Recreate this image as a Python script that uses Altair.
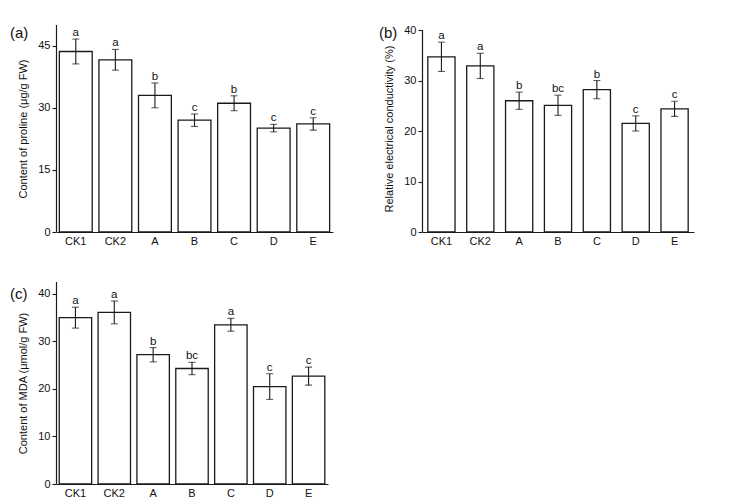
import altair as alt
import pandas as pd

cats = ["CK1", "CK2", "A", "B", "C", "D", "E"]

prol = [43.6, 41.6, 33.0, 27.0, 31.1, 25.1, 26.1]
prol_err = [3.0, 2.5, 3.0, 1.5, 1.8, 0.9, 1.5]
prol_sig = ["a", "a", "b", "c", "b", "c", "c"]

rec = [34.7, 32.9, 26.0, 25.1, 28.2, 21.5, 24.4]
rec_err = [2.9, 2.5, 1.7, 2.0, 1.8, 1.5, 1.5]
rec_sig = ["a", "a", "b", "bc", "b", "c", "c"]

mda = [35.0, 36.1, 27.2, 24.3, 33.5, 20.5, 22.7]
mda_err = [2.2, 2.4, 1.5, 1.3, 1.35, 2.7, 1.9]
mda_sig = ["a", "a", "b", "bc", "a", "c", "c"]

FONT = "Liberation Sans"
INK = "#1a1a1a"


def panel(vals, errs, sigs, ytitle, ymax, axis_top, yticks, w, h, pad, tag,
          tag_x, tag_y):
    df = pd.DataFrame({
        "cat": cats,
        "v": vals,
        "lo": [v - e for v, e in zip(vals, errs)],
        "hi": [v + e for v, e in zip(vals, errs)],
        "sig": sigs,
    })
    x = alt.X("cat:N", sort=cats, title=None,
              scale=alt.Scale(paddingInner=pad, paddingOuter=pad / 2),
              axis=alt.Axis(labelAngle=0, ticks=False, labelPadding=3))
    yscale = alt.Scale(domain=[0, ymax], nice=False, zero=True)
    yaxis = alt.Axis(values=yticks, tickSize=4, labelPadding=2, titlePadding=9,
                     grid=False, domain=False)
    base = alt.Chart(df)
    bars = base.mark_bar(fill="white", stroke=INK, strokeWidth=1.3).encode(
        x=x, y=alt.Y("v:Q", scale=yscale, axis=yaxis, title=ytitle))
    rule = base.mark_rule(color=INK, strokeWidth=1.1).encode(
        x=alt.X("cat:N", sort=cats), y="lo:Q", y2="hi:Q")
    cap_lo = base.mark_tick(color=INK, orient="horizontal", size=7,
                            thickness=1.1).encode(
        x=alt.X("cat:N", sort=cats), y="lo:Q")
    cap_hi = base.mark_tick(color=INK, orient="horizontal", size=7,
                            thickness=1.1).encode(
        x=alt.X("cat:N", sort=cats), y="hi:Q")
    txt = base.mark_text(baseline="alphabetic", dy=-3, fontSize=11.5, font=FONT,
                         color="#111").encode(
        x=alt.X("cat:N", sort=cats), y="hi:Q", text="sig:N")
    tdf = alt.Chart(pd.DataFrame({"t": [tag], "y0": [0], "y1": [axis_top]}))
    lab = tdf.mark_text(
        align="left", baseline="middle", fontSize=15, font=FONT, color="#111"
    ).encode(x=alt.value(tag_x), y=alt.value(tag_y), text="t:N")
    yline = tdf.mark_rule(color=INK, strokeWidth=1.2).encode(
        x=alt.value(0.5), y=alt.Y("y0:Q"), y2="y1:Q")
    return alt.layer(bars, rule, cap_lo, cap_hi, txt, lab, yline).properties(
        width=w, height=h)


pa = panel(prol, prol_err, prol_sig, "Content of proline (μg/g FW)", 50, 50,
           [0, 15, 30, 45], 277, 207, 0.17, "(a)", -46, 8)
pb = panel(rec, rec_err, rec_sig, "Relative electrical conductivity (%)", 41, 40,
           [0, 10, 20, 30, 40], 272, 207, 0.3, "(b)", -43, 8)
pc = panel(mda, mda_err, mda_sig, "Content of MDA (μmol/g FW)", 42.5, 42.5,
           [0, 10, 20, 30, 40], 272, 202, 0.165, "(c)", -46, 12)

chart = alt.vconcat(
    alt.hconcat(pa, pb, spacing=46),
    pc,
    spacing=35,
).properties(
    padding={"left": 2, "top": 16, "right": 5, "bottom": 0},
    background="white",
).configure_view(stroke=None).configure_axis(
    labelFont=FONT, titleFont=FONT, labelFontSize=11, titleFontSize=11,
    titleFontWeight="normal", labelColor="#111", titleColor="#111",
    domainColor=INK, tickColor=INK, domainWidth=1.2, tickWidth=1.1,
)

chart.save("out.html", embed_options={"renderer": "svg", "actions": False})
